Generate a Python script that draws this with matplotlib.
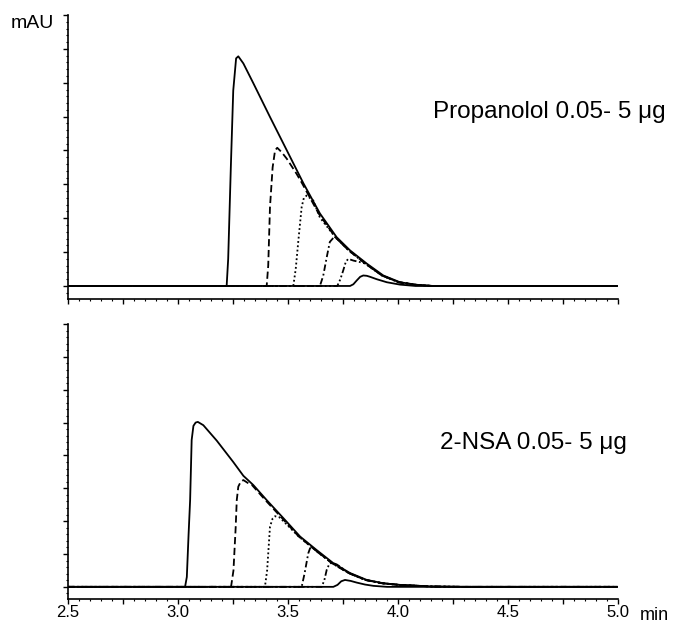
import matplotlib
matplotlib.use("Agg")
import matplotlib.pyplot as plt
from matplotlib.ticker import MultipleLocator, FuncFormatter

plt.rcParams['font.family'] = ['Liberation Sans', 'DejaVu Sans']

# ---------------- data (time in min, signal in axis units) ----------------
# Propanolol panel
prop_main_t = [2.50, 3.221, 3.228, 3.240, 3.251, 3.264, 3.274, 3.297, 3.342, 3.418, 3.494, 3.570,
               3.645, 3.721, 3.782, 3.858, 3.933, 4.009, 4.085, 4.160, 5.00]
prop_main_h = [0.0, 0.0, 0.8, 3.5, 5.77, 6.72, 6.78, 6.57, 5.99, 4.99, 4.01, 3.03,
               2.14, 1.44, 1.05, 0.66, 0.31, 0.11, 0.035, 0.0, 0.0]

prop_dash_t = [2.50, 3.403, 3.410, 3.418, 3.430, 3.441, 3.451, 3.471, 3.494, 3.539]
prop_dash_h = [0.0, 0.0, 0.6, 2.33, 3.5, 4.0, 4.08, 3.95, 3.76, 3.31]

prop_dot_t = [2.50, 3.524, 3.535, 3.547, 3.562, 3.572, 3.585, 3.615, 3.645]
prop_dot_h = [0.0, 0.0, 0.5, 1.34, 2.33, 2.60, 2.67, 2.52, 2.02]

prop_dashdot_t = [2.50, 3.645, 3.660, 3.676, 3.690, 3.706, 3.721, 3.745]
prop_dashdot_h = [0.0, 0.0, 0.3, 0.85, 1.30, 1.42, 1.40, 1.25]

prop_dd_t = [2.50, 3.724, 3.738, 3.751, 3.763, 3.774, 3.797, 3.830]
prop_dd_h = [0.0, 0.0, 0.2, 0.46, 0.72, 0.80, 0.75, 0.70]

prop_bump_t = [2.50, 3.782, 3.797, 3.812, 3.828, 3.842, 3.858, 3.873, 3.903, 3.949, 4.009, 4.080, 5.00]
prop_bump_h = [0.0, 0.0, 0.05, 0.16, 0.27, 0.31, 0.30, 0.27, 0.20, 0.11, 0.04, 0.0, 0.0]

# 2-NSA panel
nsa_main_t = [2.50, 3.032, 3.040, 3.048, 3.055, 3.062, 3.070, 3.080, 3.090, 3.115, 3.176, 3.251,
              3.297, 3.342, 3.403, 3.479, 3.555, 3.630, 3.706, 3.782, 3.858, 3.933, 4.009, 4.160,
              4.300, 5.00]
nsa_main_h = [0.0, 0.0, 0.3, 1.6, 2.64, 4.47, 4.90, 5.00, 5.02, 4.92, 4.45, 3.80,
              3.38, 3.10, 2.64, 2.09, 1.53, 1.12, 0.72, 0.42, 0.21, 0.11, 0.06, 0.01,
              0.0, 0.0]

nsa_dash_t = [2.50, 3.241, 3.252, 3.262, 3.267, 3.274, 3.285, 3.297, 3.327]
nsa_dash_h = [0.0, 0.0, 0.5, 1.8, 2.64, 3.05, 3.20, 3.25, 3.12]

nsa_dot_t = [2.50, 3.395, 3.405, 3.418, 3.430, 3.441, 3.460, 3.479]
nsa_dot_h = [0.0, 0.0, 0.5, 1.83, 2.08, 2.15, 2.12, 2.00]

nsa_dashdot_t = [2.50, 3.562, 3.575, 3.592, 3.600, 3.607, 3.630]
nsa_dashdot_h = [0.0, 0.0, 0.4, 1.02, 1.17, 1.22, 1.08]

nsa_dd_t = [2.50, 3.653, 3.665, 3.676, 3.688, 3.699, 3.722, 3.750]
nsa_dd_h = [0.0, 0.0, 0.2, 0.52, 0.70, 0.74, 0.68, 0.55]

nsa_bump_t = [2.50, 3.706, 3.725, 3.742, 3.759, 3.785, 3.812, 3.850, 3.888, 3.950, 5.00]
nsa_bump_h = [0.0, 0.0, 0.06, 0.17, 0.21, 0.18, 0.13, 0.07, 0.03, 0.0, 0.0]

x_ticks_labelled = [2.5, 3.0, 3.5, 4.0, 4.5, 5.0]

# ---------------- styles ----------------
LW = 1.3
styles = {
    'dash':    (0, (4.0, 2.0)),
    'dot':     (0, (1.0, 1.4)),
    'dashdot': (0, (3.6, 1.6, 1.0, 1.6)),
    'dd':      (0, (3.6, 1.4, 1.0, 1.4, 1.0, 1.4)),
}


def join_envelope(front_t, front_h, env_t, env_h, dt=-0.006):
    # smaller injections ride on the rear of the big one
    t = list(front_t)
    h = list(front_h)
    for et, eh in zip(env_t, env_h):
        if et + dt > front_t[-1]:
            t.append(et + dt)
            h.append(eh)
    return t, h


def draw_panel(ax, main, fronts, bump):
    env_t, env_h = main
    for (ft, fh), key in fronts:
        t, h = join_envelope(ft, fh, env_t, env_h)
        ax.plot(t, h, color='black', lw=LW, ls=styles[key])
    ax.plot(bump[0], bump[1], color='black', lw=LW)
    ax.plot(env_t, env_h, color='black', lw=LW)

    ax.set_xlim(2.5, 5.0)
    ax.set_ylim(-0.37, 8.0)
    for s in ['top', 'right']:
        ax.spines[s].set_visible(False)
    for s in ['left', 'bottom']:
        ax.spines[s].set_linewidth(1.2)
    ax.xaxis.set_major_locator(MultipleLocator(0.25))
    ax.xaxis.set_minor_locator(MultipleLocator(0.05))
    ax.yaxis.set_major_locator(MultipleLocator(1.0))
    ax.yaxis.set_minor_locator(MultipleLocator(0.2))
    ax.tick_params(axis='both', which='major', length=3.5, width=1.0, direction='out')
    ax.tick_params(axis='both', which='minor', length=1.6, width=0.8, direction='out')
    ax.set_yticklabels([])


fig = plt.figure(figsize=(6.81, 6.25), dpi=100)
ax1 = fig.add_axes([0.0999, 0.5224, 0.8076, 0.4536])
ax2 = fig.add_axes([0.0999, 0.0416, 0.8076, 0.4400])

draw_panel(ax1, (prop_main_t, prop_main_h),
           [((prop_dash_t, prop_dash_h), 'dash'), ((prop_dot_t, prop_dot_h), 'dot'),
            ((prop_dashdot_t, prop_dashdot_h), 'dashdot'), ((prop_dd_t, prop_dd_h), 'dd')],
           (prop_bump_t, prop_bump_h))
draw_panel(ax2, (nsa_main_t, nsa_main_h),
           [((nsa_dash_t, nsa_dash_h), 'dash'), ((nsa_dot_t, nsa_dot_h), 'dot'),
            ((nsa_dashdot_t, nsa_dashdot_h), 'dashdot'), ((nsa_dd_t, nsa_dd_h), 'dd')],
           (nsa_bump_t, nsa_bump_h))

ax1.set_xticklabels([])
ax2.xaxis.set_major_formatter(FuncFormatter(
    lambda v, p: f"{v:.1f}" if any(abs(v - x) < 1e-6 for x in x_ticks_labelled) else ""))
ax2.tick_params(axis='x', which='major', labelsize=12, pad=0.5)

fig.text(0.0150, 0.963, "mAU", fontsize=14, va='center', ha='left')
fig.text(0.940, 0.0075, "min", fontsize=13, va='baseline', ha='left')
fig.text(0.636, 0.821, "Propanolol 0.05- 5 \u03bcg", fontsize=17.5, va='center', ha='left')
fig.text(0.646, 0.291, "2-NSA 0.05- 5 \u03bcg", fontsize=17.5, va='center', ha='left')

fig.savefig("out.png", dpi=100)
